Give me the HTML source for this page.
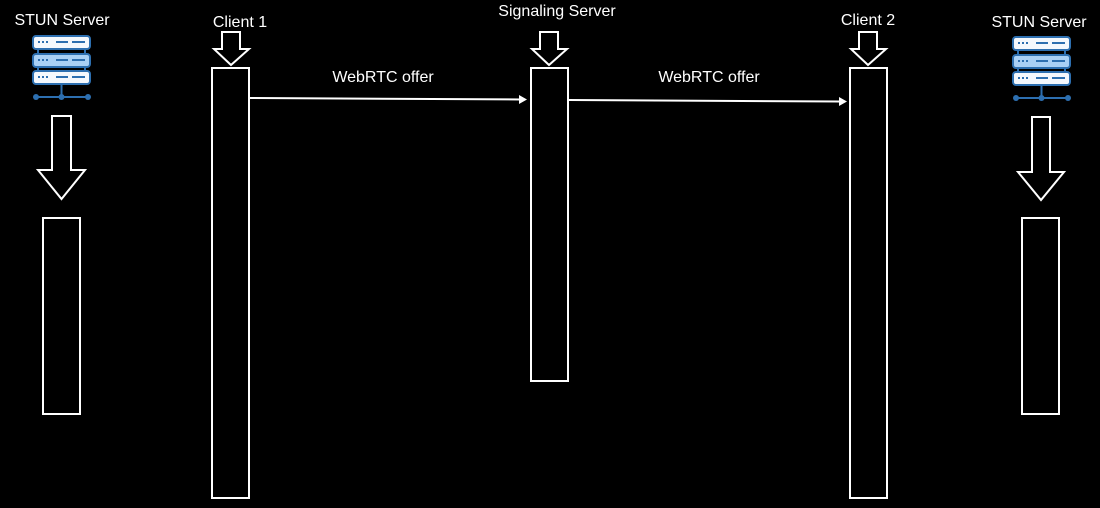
<!DOCTYPE html>
<html><head><style>
html,body{margin:0;padding:0;background:#000;}
svg{display:block;}
text{font-family:"Liberation Sans",sans-serif;fill:#fff;font-size:16px;}
</style></head><body>
<svg width="1100" height="508" viewBox="0 0 1100 508" xmlns="http://www.w3.org/2000/svg">
<rect width="1100" height="508" fill="#000"/>
<defs>
<g id="srv">
 <line x1="6" y1="12" x2="6" y2="44" stroke="#2d6fb0" stroke-width="2"/>
 <line x1="53" y1="12" x2="53" y2="44" stroke="#2d6fb0" stroke-width="2"/>
 <rect x="1" y="1" width="57" height="13" rx="3" fill="#f4f8fd" stroke="#2d6fb0" stroke-width="2"/>
 <rect x="1" y="19" width="57" height="13" rx="3" fill="#a9d0f5" stroke="#2d6fb0" stroke-width="2"/>
 <rect x="1" y="36" width="57" height="13" rx="3" fill="#f4f8fd" stroke="#2d6fb0" stroke-width="2"/>
 <g fill="#2d6fb0">
  <rect x="6" y="6" width="2" height="2"/><rect x="10" y="6" width="2" height="2"/><rect x="14" y="6" width="2" height="2"/>
  <rect x="24" y="6" width="12" height="2"/><rect x="40" y="6" width="13" height="2"/>
  <rect x="6" y="24" width="2" height="2"/><rect x="10" y="24" width="2" height="2"/><rect x="14" y="24" width="2" height="2"/>
  <rect x="24" y="24" width="12" height="2"/><rect x="40" y="24" width="13" height="2"/>
  <rect x="6" y="41" width="2" height="2"/><rect x="10" y="41" width="2" height="2"/><rect x="14" y="41" width="2" height="2"/>
  <rect x="24" y="41" width="12" height="2"/><rect x="40" y="41" width="13" height="2"/>
 </g>
 <line x1="29.5" y1="49" x2="29.5" y2="62" stroke="#2d6fb0" stroke-width="2"/>
 <line x1="4" y1="62" x2="56" y2="62" stroke="#2d6fb0" stroke-width="2"/>
 <circle cx="4" cy="62" r="3" fill="#2d6fb0"/><circle cx="29.5" cy="62" r="3" fill="#2d6fb0"/><circle cx="56" cy="62" r="3" fill="#2d6fb0"/>
</g>
</defs>
<use href="#srv" x="32" y="35"/>
<use href="#srv" x="1012" y="36"/>

<g fill="none" stroke="#fff" stroke-width="2">
 <path d="M52 116 H71 V170 H85 L61.5 199 L38 170 H52 Z"/>
 <path d="M1032 117 H1050 V172 H1064 L1041 200 L1018 172 H1032 Z"/>
 <path d="M222 32 H240 V49 H249 L231 65 L214 49 H222 Z"/>
 <path d="M540 32 H558 V49 H567 L549 65 L532 49 H540 Z"/>
 <path d="M859 32 H877 V49 H886 L868 65 L851 49 H859 Z"/>
 <rect x="43" y="218" width="37" height="196"/>
 <rect x="1022" y="218" width="37" height="196"/>
 <rect x="212" y="68" width="37" height="430"/>
 <rect x="531" y="68" width="37" height="313"/>
 <rect x="850" y="68" width="37" height="430"/>
 <line x1="250" y1="98" x2="521" y2="99.5"/>
 <line x1="569" y1="100" x2="840" y2="101.5"/>
</g>
<polygon points="527,99.5 519,95 519,104" fill="#fff"/>
<polygon points="847,101.5 839,97 839,106" fill="#fff"/>

<text x="62" y="25" text-anchor="middle">STUN Server</text>
<text x="1039" y="27" text-anchor="middle">STUN Server</text>
<text x="240" y="27" text-anchor="middle">Client 1</text>
<text x="557" y="16" text-anchor="middle">Signaling Server</text>
<text x="868" y="25" text-anchor="middle">Client 2</text>
<text x="383" y="82" text-anchor="middle">WebRTC offer</text>
<text x="709" y="82" text-anchor="middle">WebRTC offer</text>
</svg>
</body></html>
